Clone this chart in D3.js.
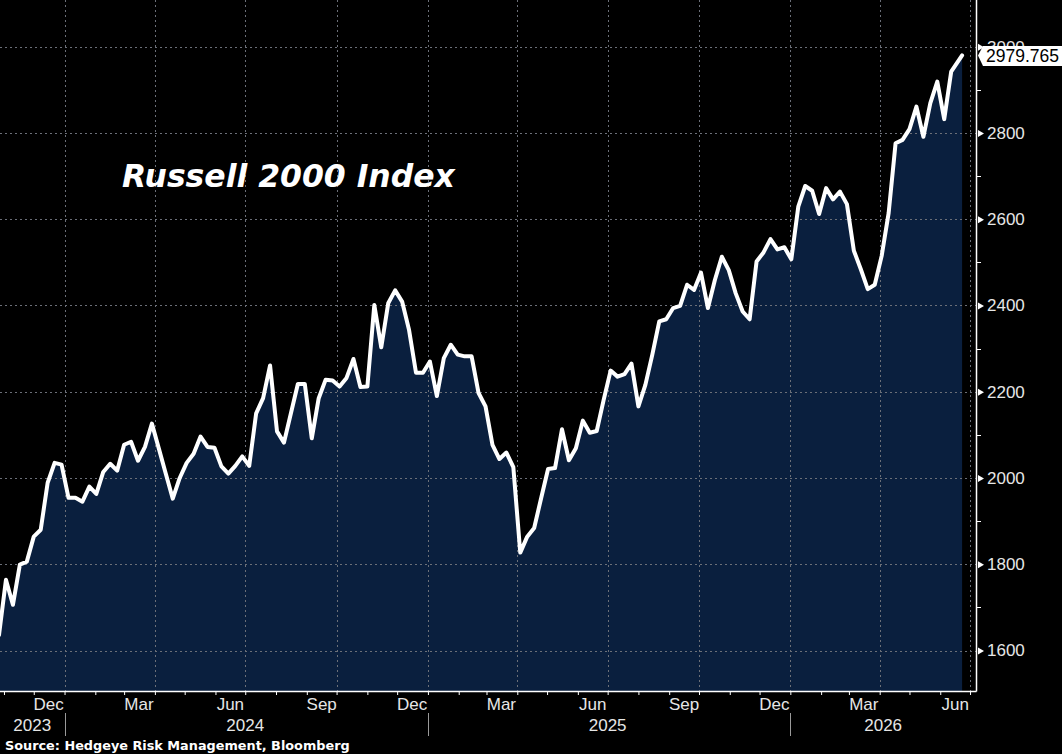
<!DOCTYPE html>
<html><head><meta charset="utf-8">
<script src="https://cdn.jsdelivr.net/npm/d3@7"></script>
<style>html,body{margin:0;padding:0;background:#000;} svg{display:block;}</style>
</head><body>
<svg id="chart" width="1062" height="754"></svg>
<script>
// ---------------- DATA ----------------
const dates = [
"2023-10-27","2023-11-03","2023-11-10","2023-11-17","2023-11-24","2023-12-01","2023-12-08","2023-12-15","2023-12-22","2023-12-29",
"2024-01-05","2024-01-12","2024-01-19","2024-01-26","2024-02-02","2024-02-09","2024-02-16","2024-02-23","2024-03-01","2024-03-08",
"2024-03-15","2024-03-22","2024-03-29","2024-04-05","2024-04-12","2024-04-19","2024-04-26","2024-05-03","2024-05-10","2024-05-17",
"2024-05-24","2024-05-31","2024-06-07","2024-06-14","2024-06-21","2024-06-28","2024-07-05","2024-07-12","2024-07-19","2024-07-26",
"2024-08-02","2024-08-09","2024-08-16","2024-08-23","2024-08-30","2024-09-06","2024-09-13","2024-09-20","2024-09-27","2024-10-04",
"2024-10-11","2024-10-18","2024-10-25","2024-11-01","2024-11-08","2024-11-15","2024-11-22","2024-11-29","2024-12-06","2024-12-13",
"2024-12-20","2024-12-27","2025-01-03","2025-01-10","2025-01-17","2025-01-24","2025-01-31","2025-02-07","2025-02-14","2025-02-21",
"2025-02-28","2025-03-07","2025-03-14","2025-03-21","2025-03-28","2025-04-04","2025-04-11","2025-04-18","2025-04-25","2025-05-02",
"2025-05-09","2025-05-16","2025-05-23","2025-05-30","2025-06-06","2025-06-13","2025-06-20","2025-06-27","2025-07-04","2025-07-11",
"2025-07-18","2025-07-25","2025-08-01","2025-08-08","2025-08-15","2025-08-22","2025-08-29","2025-09-05","2025-09-12","2025-09-19",
"2025-09-26","2025-10-03","2025-10-10","2025-10-17","2025-10-24","2025-10-31","2025-11-07","2025-11-14","2025-11-21","2025-11-28",
"2025-12-05","2025-12-12","2025-12-19","2025-12-26","2026-01-02","2026-01-09","2026-01-16","2026-01-23","2026-01-30","2026-02-06",
"2026-02-13","2026-02-20","2026-02-27","2026-03-06","2026-03-13","2026-03-20","2026-03-27","2026-04-03","2026-04-10","2026-04-17",
"2026-04-24","2026-05-01","2026-05-08","2026-05-15","2026-05-22","2026-05-29","2026-06-05","2026-06-12","2026-06-23"
];
const values = [
1636,1764,1706,1799,1806,1864,1880,1989,2035,2031,
1954,1954,1945,1980,1963,2014,2033,2017,2077,2084,
2040,2072,2126,2068,2010,1952,2000,2035,2056,2096,
2072,2070,2027,2010,2028,2050,2028,2150,2185,2261,
2108,2082,2150,2218,2218,2092,2185,2228,2226,2212,
2232,2276,2211,2212,2401,2303,2405,2435,2409,2343,
2244,2244,2270,2190,2278,2309,2286,2282,2282,2197,
2166,2077,2044,2059,2025,1827,1864,1884,1953,2021,
2023,2113,2041,2069,2133,2105,2109,2181,2249,2235,
2241,2265,2166,2216,2286,2363,2368,2394,2399,2448,
2436,2476,2394,2459,2513,2482,2428,2386,2368,2502,
2523,2554,2530,2535,2507,2629,2677,2666,2612,2672,
2646,2664,2635,2527,2484,2438,2448,2515,2614,2776,
2784,2809,2861,2791,2869,2919,2832,2942,2979.765
];
const lastValueLabel = "2979.765";
const yTicks = [1600,1800,2000,2200,2400,2600,2800,3000];
const yMinorTicks = [1700,1900,2100,2300,2500,2700,2900];
const monthLabelDates = ["2023-12-16","2024-03-16","2024-06-16","2024-09-16","2024-12-16","2025-03-16","2025-06-16","2025-09-16","2025-12-16","2026-03-16","2026-06-16"];
const monthLabelTexts = ["Dec","Mar","Jun","Sep","Dec","Mar","Jun","Sep","Dec","Mar","Jun"];
const yearLabelTexts = ["2023","2024","2025","2026"];
const yearStartDates = ["2024-01-01","2025-01-01","2026-01-01"];
const gridDates = ["2024-01-01","2024-04-01","2024-07-01","2024-10-01","2025-01-01","2025-04-01","2025-07-01","2025-10-01","2026-01-01","2026-04-01","2026-07-01"];
const titleText = "Russell 2000 Index";
const sourceText = "Source: Hedgeye Risk Management, Bloomberg";

// ---------------- LAYOUT ----------------
const W = 1062, H = 754;
const plotRight = 976, plotBottom = 691;
const parse = d3.timeParse("%Y-%m-%d");
const data = dates.map((d, i) => ({date: parse(d), value: values[i]}));

const x = d3.scaleTime().domain([parse("2023-10-28"), parse("2026-07-07")]).range([0, plotRight]);
const y = d3.scaleLinear().domain([1600, 3000]).range([650.5, 46.7]);

const svg = d3.select("#chart");
svg.append("rect").attr("width", W).attr("height", H).attr("fill", "#000");

svg.append("defs").append("clipPath").attr("id", "clip")
  .append("rect").attr("x", 0).attr("y", 0).attr("width", plotRight).attr("height", plotBottom);

const plot = svg.append("g").attr("clip-path", "url(#clip)");

plot.append("path").datum(data)
  .attr("fill", "#0a1f3e")
  .attr("d", d3.area().x(d => x(d.date)).y0(plotBottom).y1(d => y(d.value)));

// grid
const gridColor = "#6b6f78";
plot.selectAll("line.hg").data(yTicks).join("line")
  .attr("x1", 0).attr("x2", plotRight)
  .attr("y1", d => Math.round(y(d)) + 0.5).attr("y2", d => Math.round(y(d)) + 0.5)
  .attr("stroke", gridColor).attr("stroke-width", 1).attr("stroke-dasharray", "2,3");
plot.selectAll("line.vg").data(gridDates.map(parse)).join("line")
  .attr("x1", d => Math.round(x(d)) + 0.5).attr("x2", d => Math.round(x(d)) + 0.5)
  .attr("y1", 0).attr("y2", plotBottom)
  .attr("stroke", gridColor).attr("stroke-width", 1).attr("stroke-dasharray", "2,3");

plot.append("path").datum(data)
  .attr("fill", "none").attr("stroke", "#ffffff").attr("stroke-width", 4)
  .attr("stroke-linejoin", "round").attr("stroke-linecap", "round")
  .attr("d", d3.line().x(d => x(d.date)).y(d => y(d.value)));

// axes lines
svg.append("line").attr("x1", 0).attr("x2", plotRight + 0.5).attr("y1", plotBottom + 0.5).attr("y2", plotBottom + 0.5)
  .attr("stroke", "#fff").attr("stroke-width", 1.5);
svg.append("line").attr("x1", plotRight + 0.5).attr("x2", plotRight + 0.5).attr("y1", 0).attr("y2", plotBottom + 0.5)
  .attr("stroke", "#fff").attr("stroke-width", 1.5);

// month ticks
const xAxis = svg.append("g").attr("transform", `translate(0,${plotBottom})`)
  .call(d3.axisBottom(x).ticks(d3.timeMonth.every(1)).tickSize(4).tickFormat(""));
xAxis.select(".domain").remove();
xAxis.selectAll(".tick line").attr("stroke", "#fff");

const labelFont = "'Liberation Sans', Arial, sans-serif";
svg.selectAll("text.month").data(monthLabelDates).join("text")
  .attr("x", d => x(parse(d))).attr("y", 710)
  .attr("text-anchor", "middle").attr("fill", "#e6e6e6")
  .style("font-family", labelFont).style("font-size", "17px")
  .text((d, i) => monthLabelTexts[i]);

const yb = yearStartDates.map(d => x(parse(d)));
const yearCenters = [ (0 + yb[0]) / 2, x(parse("2024-07-01")), x(parse("2025-07-01")), (yb[2] + plotRight) / 2 ];
svg.selectAll("text.year").data(yearLabelTexts).join("text")
  .attr("x", (d, i) => yearCenters[i]).attr("y", 731)
  .attr("text-anchor", "middle").attr("fill", "#e6e6e6")
  .style("font-family", labelFont).style("font-size", "17px")
  .text(d => d);
svg.selectAll("line.ysep").data(yb).join("line")
  .attr("x1", d => Math.round(d) + 0.5).attr("x2", d => Math.round(d) + 0.5)
  .attr("y1", 713).attr("y2", 736).attr("stroke", "#9a9a9a").attr("stroke-width", 1);

// y axis
const yAxis = svg.append("g").attr("transform", `translate(${plotRight},0)`)
  .call(d3.axisRight(y).tickValues(yTicks).tickSize(0).tickPadding(11).tickFormat(d3.format("d")));
yAxis.select(".domain").remove();
yAxis.selectAll(".tick text").attr("fill", "#e6e6e6")
  .style("font-family", labelFont).style("font-size", "17px");
yAxis.selectAll(".tick").append("path")
  .attr("d", "M2,-3.5 L8,0 L2,3.5 Z").attr("fill", "#fff");
svg.selectAll("line.ymin").data(yMinorTicks).join("line")
  .attr("x1", plotRight).attr("x2", plotRight + 5)
  .attr("y1", d => Math.round(y(d)) + 0.5).attr("y2", d => Math.round(y(d)) + 0.5)
  .attr("stroke", "#fff").attr("stroke-width", 1);

// last value label
const ly = y(values[values.length - 1]);
svg.append("path")
  .attr("d", `M${plotRight + 2},${ly} L${plotRight + 7},${ly - 9.5} L${W},${ly - 9.5} L${W},${ly + 10.5} L${plotRight + 7},${ly + 10.5} Z`)
  .attr("fill", "#fff");
svg.append("text").attr("x", plotRight + 10).attr("y", ly + 6.5)
  .attr("fill", "#000").style("font-family", labelFont).style("font-size", "17.5px")
  .text(lastValueLabel);

// title
const title = svg.append("text").attr("x", 122).attr("y", 187)
  .attr("fill", "#fff").style("font-family", "'DejaVu Sans', Verdana, sans-serif")
  .style("font-weight", "bold").style("font-style", "italic").style("font-size", "30px")
  .text(titleText);
const tw = title.node().getComputedTextLength();
title.style("font-size", (30 * 333 / tw) + "px");

// source
const src = svg.append("text").attr("x", 5).attr("y", 750)
  .attr("fill", "#fff").style("font-family", "'DejaVu Sans', Verdana, sans-serif")
  .style("font-weight", "bold").style("font-size", "13px")
  .text(sourceText);
const sw = src.node().getComputedTextLength();
src.style("font-size", (13 * 345 / sw) + "px");
</script>
</body></html>
